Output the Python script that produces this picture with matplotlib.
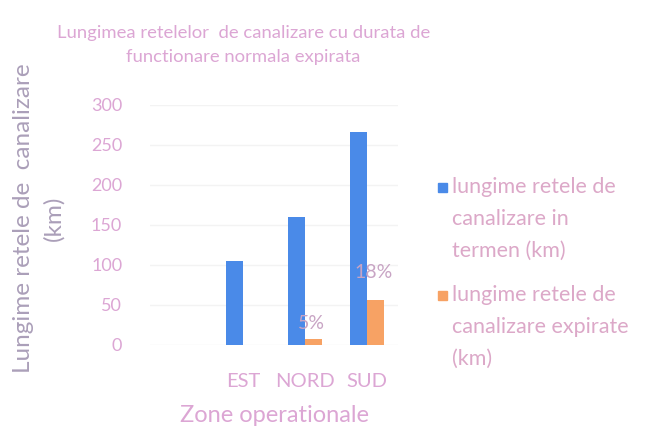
import matplotlib
matplotlib.use("Agg")
import matplotlib.pyplot as plt
from matplotlib.patches import Rectangle
import numpy as np

categories = ["", "EST", "NORD", "SUD"]
in_termen = [0, 105, 160, 266]
expirate = [0, 0, 7, 56]
pct_labels = ["", "", "5%", "18%"]
series_names = ["lungime retele de\ncanalizare in\ntermen (km)",
                "lungime retele de\ncanalizare expirate\n(km)"]

plt.rcParams['font.family'] = ['Lato', 'DejaVu Sans']

fig = plt.figure(figsize=(6.45, 4.28), dpi=100)
ax = fig.add_axes([0.2326, 0.194, 0.3845, 0.5607])

x = np.arange(len(categories))
w = 0.28
blue = "#4a8ae8"
orange = "#f7a264"
pink = "#dca6d4"

b1 = ax.bar(x - w / 2, in_termen, w, color=blue, zorder=2)
b2 = ax.bar(x + w / 2, expirate, w, color=orange, zorder=2)

offsets = [0, 0, 5, 14]
for xi, v, lab, off in zip(x, expirate, pct_labels, offsets):
    if lab:
        ax.annotate(lab, (xi + w / 2 - 0.04, v), xytext=(0, off), textcoords="offset points",
                    ha="center", va="bottom", fontsize=14, color="#c8a4c4", zorder=3)

ax.set_xlim(-0.5, len(categories) - 0.5)
ax.set_ylim(0, 300)
ax.set_yticks(np.arange(0, 301, 50))
ax.set_xticks(x)
ax.set_xticklabels(categories)
ax.tick_params(axis='both', length=0, colors=pink)
ax.tick_params(axis='y', labelsize=13, pad=20)
ax.tick_params(axis='x', labelsize=14.5, pad=20)
ax.grid(axis='y', color="#f3f3f3", linewidth=1, zorder=0)
for s in ax.spines.values():
    s.set_visible(False)

ax.set_xlabel("Zone operationale", fontsize=17, color=pink, labelpad=11)
fig.text(0.06, 0.491, "Lungime retele de  canalizare\n(km)", rotation=90,
         ha="center", va="center", fontsize=17.5, color="#ab9fb9",
         linespacing=1.5, multialignment="center")

fig.text(0.377, 0.895, "Lungimea retelelor  de canalizare cu durata de\nfunctionare normala expirata",
         ha="center", va="center", fontsize=13.3, color=pink, linespacing=1.55)

# legend (manual: marker aligned with first text line)
leg_x = 0.679
leg_tops = [0.586, 0.334]
mark_bottoms = [0.5514, 0.299]
for name, col, top, mb in zip(series_names, [blue, orange], leg_tops, mark_bottoms):
    fig.patches.append(Rectangle((leg_x, mb), 0.014, 0.021, color=col,
                                 transform=fig.transFigure, figure=fig))
    fig.text(leg_x + 0.021, top, name, ha="left", va="top", fontsize=15.5,
             color="#dca8c8", linespacing=1.75)

fig.savefig("out.png", dpi=100, facecolor="white")
